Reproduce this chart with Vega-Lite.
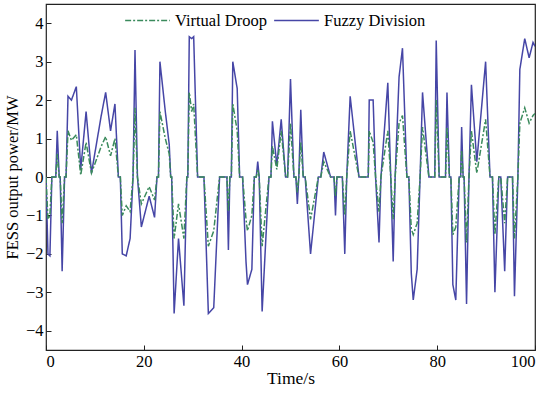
{
  "$schema": "https://vega.github.io/schema/vega-lite/v6.json",
  "width": 489,
  "height": 346,
  "autosize": {"type": "none"},
  "padding": {"left": 46, "top": 4, "right": 15, "bottom": 46},
  "background": "white",
  "config": {
    "font": "Liberation Serif",
    "view": {"stroke": "#222222", "strokeWidth": 1.2},
    "axis": {
      "grid": false,
      "domain": false,
      "ticks": true,
      "tickColor": "#222222",
      "tickSize": -5,
      "labelFont": "Liberation Serif",
      "labelFontSize": 16.5,
      "labelColor": "#000000",
      "titleFont": "Liberation Serif",
      "titleFontSize": 17.5,
      "titleFontWeight": "normal",
      "titleColor": "#000000"
    }
  },
  "data": {
    "values": [
      {"t": 0, "Fuzzy Division": 0, "Virtual Droop": 0},
      {"t": 0.4, "Fuzzy Division": -2.0, "Virtual Droop": -1.1},
      {"t": 0.8, "Fuzzy Division": -2.05, "Virtual Droop": -1.0},
      {"t": 1.2, "Fuzzy Division": 0, "Virtual Droop": 0},
      {"t": 2.0, "Fuzzy Division": 0, "Virtual Droop": 0},
      {"t": 2.3, "Fuzzy Division": 1.2, "Virtual Droop": 0.6},
      {"t": 2.7, "Fuzzy Division": 0, "Virtual Droop": 0},
      {"t": 2.9, "Fuzzy Division": 0, "Virtual Droop": 0},
      {"t": 3.3, "Fuzzy Division": -2.45, "Virtual Droop": -1.2},
      {"t": 3.8, "Fuzzy Division": 0, "Virtual Droop": 0},
      {"t": 4.1, "Fuzzy Division": 0, "Virtual Droop": 0},
      {"t": 4.5, "Fuzzy Division": 2.1, "Virtual Droop": 1.2},
      {"t": 5.2, "Fuzzy Division": 2.0, "Virtual Droop": 0.95},
      {"t": 6.2, "Fuzzy Division": 2.35, "Virtual Droop": 1.1},
      {"t": 7.1, "Fuzzy Division": 0.2, "Virtual Droop": 0.05},
      {"t": 8.2, "Fuzzy Division": 1.7, "Virtual Droop": 0.9},
      {"t": 9.3, "Fuzzy Division": 0.1, "Virtual Droop": 0.1},
      {"t": 11.3, "Fuzzy Division": 1.6, "Virtual Droop": 0.8},
      {"t": 12.2, "Fuzzy Division": 2.2, "Virtual Droop": 1.05},
      {"t": 13.2, "Fuzzy Division": 1.2, "Virtual Droop": 0.55},
      {"t": 14.1, "Fuzzy Division": 1.9, "Virtual Droop": 1.0},
      {"t": 14.8, "Fuzzy Division": 0, "Virtual Droop": 0},
      {"t": 15.2, "Fuzzy Division": 0, "Virtual Droop": 0},
      {"t": 15.6, "Fuzzy Division": -2.0, "Virtual Droop": -1.0},
      {"t": 16.4, "Fuzzy Division": -2.05, "Virtual Droop": -0.75},
      {"t": 17.2, "Fuzzy Division": -1.6, "Virtual Droop": -0.9},
      {"t": 17.8, "Fuzzy Division": 0, "Virtual Droop": 0},
      {"t": 18.2, "Fuzzy Division": 3.3, "Virtual Droop": 1.8},
      {"t": 18.7, "Fuzzy Division": 0, "Virtual Droop": 0},
      {"t": 19.5, "Fuzzy Division": -1.3, "Virtual Droop": -0.7},
      {"t": 21.1, "Fuzzy Division": -0.5, "Virtual Droop": -0.25},
      {"t": 22.2, "Fuzzy Division": -1.05, "Virtual Droop": -0.6},
      {"t": 22.7, "Fuzzy Division": 0, "Virtual Droop": 0},
      {"t": 23.0, "Fuzzy Division": 0, "Virtual Droop": 0},
      {"t": 23.3, "Fuzzy Division": 3.0, "Virtual Droop": 1.7},
      {"t": 24.4, "Fuzzy Division": 1.7, "Virtual Droop": 1.0},
      {"t": 25.2, "Fuzzy Division": 0.85, "Virtual Droop": 0.6},
      {"t": 25.5, "Fuzzy Division": 0, "Virtual Droop": 0},
      {"t": 25.7, "Fuzzy Division": 0, "Virtual Droop": 0},
      {"t": 26.2, "Fuzzy Division": -3.55, "Virtual Droop": -1.6},
      {"t": 27.1, "Fuzzy Division": -1.6, "Virtual Droop": -0.7},
      {"t": 28.2, "Fuzzy Division": -3.35, "Virtual Droop": -1.6},
      {"t": 28.8, "Fuzzy Division": 0, "Virtual Droop": 0},
      {"t": 29.0, "Fuzzy Division": 0, "Virtual Droop": 0},
      {"t": 29.3, "Fuzzy Division": 3.65, "Virtual Droop": 2.2},
      {"t": 29.8, "Fuzzy Division": 3.6, "Virtual Droop": 1.7},
      {"t": 30.2, "Fuzzy Division": 3.65, "Virtual Droop": 1.9},
      {"t": 31.0, "Fuzzy Division": 0, "Virtual Droop": 0},
      {"t": 32.3, "Fuzzy Division": 0, "Virtual Droop": 0},
      {"t": 33.2, "Fuzzy Division": -3.55, "Virtual Droop": -1.8},
      {"t": 34.3, "Fuzzy Division": -3.4, "Virtual Droop": -1.4},
      {"t": 35.5, "Fuzzy Division": 0, "Virtual Droop": 0},
      {"t": 37.0, "Fuzzy Division": 0, "Virtual Droop": 0},
      {"t": 37.3, "Fuzzy Division": -1.9, "Virtual Droop": -0.9},
      {"t": 37.6, "Fuzzy Division": 0, "Virtual Droop": 0},
      {"t": 37.9, "Fuzzy Division": 0, "Virtual Droop": 0},
      {"t": 38.2, "Fuzzy Division": 3.0, "Virtual Droop": 1.9},
      {"t": 39.1, "Fuzzy Division": 2.3, "Virtual Droop": 1.2},
      {"t": 39.6, "Fuzzy Division": 0, "Virtual Droop": 0},
      {"t": 40.2, "Fuzzy Division": 0, "Virtual Droop": 0},
      {"t": 40.9, "Fuzzy Division": -2.2, "Virtual Droop": -1.1},
      {"t": 41.2, "Fuzzy Division": -2.8, "Virtual Droop": -1.4},
      {"t": 42.1, "Fuzzy Division": -2.4, "Virtual Droop": -1.0},
      {"t": 42.6, "Fuzzy Division": 0, "Virtual Droop": 0},
      {"t": 43.0, "Fuzzy Division": 0, "Virtual Droop": 0},
      {"t": 43.3, "Fuzzy Division": 0.4, "Virtual Droop": 0.2},
      {"t": 43.6, "Fuzzy Division": 0, "Virtual Droop": 0},
      {"t": 44.2, "Fuzzy Division": -3.5, "Virtual Droop": -1.8},
      {"t": 45.6, "Fuzzy Division": 0, "Virtual Droop": 0},
      {"t": 46.0, "Fuzzy Division": 0, "Virtual Droop": 0},
      {"t": 46.3, "Fuzzy Division": 1.45, "Virtual Droop": 0.8},
      {"t": 47.2, "Fuzzy Division": 0.3, "Virtual Droop": 0.2},
      {"t": 48.1, "Fuzzy Division": 1.5, "Virtual Droop": 1.2},
      {"t": 49.0, "Fuzzy Division": 0, "Virtual Droop": 0},
      {"t": 49.4, "Fuzzy Division": 0, "Virtual Droop": 0},
      {"t": 50.0, "Fuzzy Division": 2.55, "Virtual Droop": 1.4},
      {"t": 50.7, "Fuzzy Division": 0, "Virtual Droop": 0},
      {"t": 51.1, "Fuzzy Division": 0, "Virtual Droop": 0},
      {"t": 51.4, "Fuzzy Division": -0.7, "Virtual Droop": -0.4},
      {"t": 51.7, "Fuzzy Division": 0, "Virtual Droop": 0},
      {"t": 52.1, "Fuzzy Division": 1.75, "Virtual Droop": 0.9},
      {"t": 52.6, "Fuzzy Division": 0, "Virtual Droop": 0},
      {"t": 53.0, "Fuzzy Division": 0, "Virtual Droop": 0},
      {"t": 54.1, "Fuzzy Division": -2.0, "Virtual Droop": -1.1},
      {"t": 55.7, "Fuzzy Division": 0, "Virtual Droop": 0},
      {"t": 56.2, "Fuzzy Division": 0, "Virtual Droop": 0},
      {"t": 56.8, "Fuzzy Division": 0.65, "Virtual Droop": 0.4},
      {"t": 58.2, "Fuzzy Division": 0, "Virtual Droop": 0},
      {"t": 58.9, "Fuzzy Division": 0, "Virtual Droop": 0},
      {"t": 59.2, "Fuzzy Division": -1.0, "Virtual Droop": -0.5},
      {"t": 59.5, "Fuzzy Division": 0, "Virtual Droop": 0},
      {"t": 60.6, "Fuzzy Division": 0, "Virtual Droop": 0},
      {"t": 61.1, "Fuzzy Division": -2.0, "Virtual Droop": -1.0},
      {"t": 61.5, "Fuzzy Division": 0, "Virtual Droop": 0},
      {"t": 62.2, "Fuzzy Division": 2.1, "Virtual Droop": 1.2},
      {"t": 64.0, "Fuzzy Division": 0, "Virtual Droop": 0},
      {"t": 65.9, "Fuzzy Division": 0, "Virtual Droop": 0},
      {"t": 66.1, "Fuzzy Division": 2.0, "Virtual Droop": 1.2},
      {"t": 66.9, "Fuzzy Division": 2.0, "Virtual Droop": 0.9},
      {"t": 67.4, "Fuzzy Division": 0, "Virtual Droop": 0},
      {"t": 68.1, "Fuzzy Division": -1.7, "Virtual Droop": -0.9},
      {"t": 68.5, "Fuzzy Division": 0, "Virtual Droop": 0},
      {"t": 69.9, "Fuzzy Division": 2.45, "Virtual Droop": 1.2},
      {"t": 70.5, "Fuzzy Division": 0, "Virtual Droop": 0},
      {"t": 71.0, "Fuzzy Division": -2.2, "Virtual Droop": -1.1},
      {"t": 71.4, "Fuzzy Division": 0, "Virtual Droop": 0},
      {"t": 72.2, "Fuzzy Division": 2.6, "Virtual Droop": 1.4},
      {"t": 72.9, "Fuzzy Division": 3.35, "Virtual Droop": 1.6},
      {"t": 73.8, "Fuzzy Division": 0, "Virtual Droop": 0},
      {"t": 74.2, "Fuzzy Division": 0, "Virtual Droop": 0},
      {"t": 74.7, "Fuzzy Division": -2.5, "Virtual Droop": -1.35},
      {"t": 75.1, "Fuzzy Division": -3.2, "Virtual Droop": -1.5},
      {"t": 75.9, "Fuzzy Division": -2.4, "Virtual Droop": -1.2},
      {"t": 76.5, "Fuzzy Division": 0, "Virtual Droop": 0},
      {"t": 77.0, "Fuzzy Division": 2.2, "Virtual Droop": 1.3},
      {"t": 78.3, "Fuzzy Division": 0, "Virtual Droop": 0},
      {"t": 79.5, "Fuzzy Division": 0, "Virtual Droop": 0},
      {"t": 79.8, "Fuzzy Division": 3.55, "Virtual Droop": 2.0},
      {"t": 80.4, "Fuzzy Division": 0, "Virtual Droop": 0},
      {"t": 81.7, "Fuzzy Division": 0, "Virtual Droop": 0},
      {"t": 82.0, "Fuzzy Division": 2.2, "Virtual Droop": 1.3},
      {"t": 82.5, "Fuzzy Division": 0, "Virtual Droop": 0},
      {"t": 82.8, "Fuzzy Division": 0, "Virtual Droop": 0},
      {"t": 83.2, "Fuzzy Division": -2.8, "Virtual Droop": -1.5},
      {"t": 83.8, "Fuzzy Division": -3.2, "Virtual Droop": -1.3},
      {"t": 84.5, "Fuzzy Division": 0, "Virtual Droop": 0},
      {"t": 84.8, "Fuzzy Division": 0, "Virtual Droop": 0},
      {"t": 85.0, "Fuzzy Division": 1.3, "Virtual Droop": 0.7},
      {"t": 85.3, "Fuzzy Division": 0, "Virtual Droop": 0},
      {"t": 85.5, "Fuzzy Division": 0, "Virtual Droop": 0},
      {"t": 86.0, "Fuzzy Division": -3.3, "Virtual Droop": -1.7},
      {"t": 86.5, "Fuzzy Division": 0, "Virtual Droop": 0},
      {"t": 87.0, "Fuzzy Division": 2.4, "Virtual Droop": 1.2},
      {"t": 88.1, "Fuzzy Division": 0.4, "Virtual Droop": 0.1},
      {"t": 89.9, "Fuzzy Division": 3.0, "Virtual Droop": 1.5},
      {"t": 90.8, "Fuzzy Division": 0, "Virtual Droop": 0},
      {"t": 91.3, "Fuzzy Division": 0, "Virtual Droop": 0},
      {"t": 91.8, "Fuzzy Division": -3.0, "Virtual Droop": -1.5},
      {"t": 92.6, "Fuzzy Division": 0, "Virtual Droop": 0},
      {"t": 93.0, "Fuzzy Division": 0, "Virtual Droop": 0},
      {"t": 93.8, "Fuzzy Division": -2.45, "Virtual Droop": -1.2},
      {"t": 94.4, "Fuzzy Division": 0, "Virtual Droop": 0},
      {"t": 95.4, "Fuzzy Division": 0, "Virtual Droop": 0},
      {"t": 95.8, "Fuzzy Division": -3.1, "Virtual Droop": -1.6},
      {"t": 96.5, "Fuzzy Division": 0, "Virtual Droop": 0},
      {"t": 96.9, "Fuzzy Division": 2.8, "Virtual Droop": 1.4},
      {"t": 97.9, "Fuzzy Division": 3.6, "Virtual Droop": 1.8},
      {"t": 98.8, "Fuzzy Division": 3.1, "Virtual Droop": 1.4},
      {"t": 99.6, "Fuzzy Division": 3.5, "Virtual Droop": 1.6},
      {"t": 100, "Fuzzy Division": 3.4, "Virtual Droop": 1.65}
    ]
  },
  "transform": [
    {"fold": ["Fuzzy Division", "Virtual Droop"], "as": ["series", "v"]}
  ],
  "mark": {"type": "line", "strokeWidth": 1.5, "clip": true},
  "encoding": {
    "x": {
      "field": "t",
      "type": "quantitative",
      "scale": {"domain": [0, 100], "nice": false},
      "axis": {"values": [0, 20, 40, 60, 80, 100], "title": "Time/s", "labelPadding": 8, "titlePadding": 0}
    },
    "y": {
      "field": "v",
      "type": "quantitative",
      "scale": {"domain": [-4.5, 4.5], "nice": false},
      "axis": {"values": [-4, -3, -2, -1, 0, 1, 2, 3, 4], "title": "FESS output power/MW", "titleFontSize": 16.5, "labelPadding": 8, "titlePadding": 5}
    },
    "color": {
      "field": "series",
      "type": "nominal",
      "scale": {"domain": ["Virtual Droop", "Fuzzy Division"], "range": ["#3A8A5C", "#4646A6"]},
      "legend": {
        "title": null,
        "orient": "none",
        "legendX": 78,
        "legendY": -7,
        "direction": "horizontal",
        "symbolType": "stroke",
        "symbolSize": 2000,
        "symbolStrokeWidth": 1.6,
        "labelFont": "Liberation Serif",
        "labelFontSize": 16.5,
        "labelColor": "#000000",
        "columnPadding": 2,
        "labelOffset": 4
      }
    },
    "strokeDash": {
      "field": "series",
      "type": "nominal",
      "scale": {"domain": ["Virtual Droop", "Fuzzy Division"], "range": [[6, 2, 2, 2], [1, 0]]},
      "legend": null
    }
  }
}
